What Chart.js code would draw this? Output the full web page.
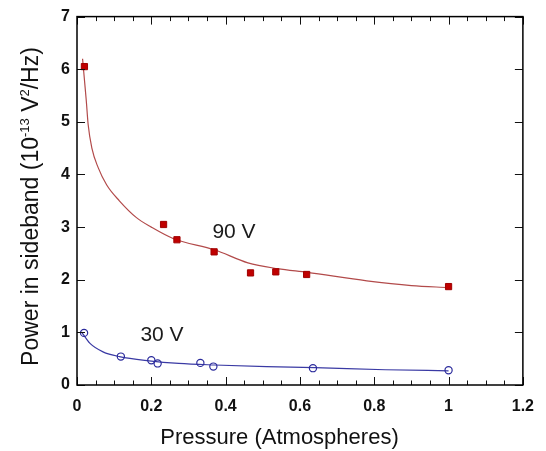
<!DOCTYPE html>
<html>
<head>
<meta charset="utf-8">
<script src="https://cdn.jsdelivr.net/npm/chart.js@4"></script>
<style>
html,body{margin:0;padding:0;background:#fff;}
#wrap{width:546px;height:451px;}
</style>
</head>
<body>
<div id="wrap"><canvas id="c" width="546" height="451"></canvas></div>
<script>
// ---- data ----
const pressure90 = [0.02, 0.233, 0.269, 0.369, 0.467, 0.535, 0.618, 1.0];
const power90    = [6.05, 3.05, 2.76, 2.53, 2.13, 2.15, 2.10, 1.87];
const pressure30 = [0.019, 0.118, 0.20, 0.217, 0.332, 0.367, 0.635, 1.0];
const power30    = [0.99, 0.54, 0.47, 0.41, 0.42, 0.35, 0.32, 0.28];
const fit90X = [0.015, 0.02, 0.025, 0.03, 0.04, 0.057, 0.08, 0.114, 0.16, 0.2, 0.26, 0.37, 0.46, 0.54, 0.62, 0.78, 0.9, 1.0];
const fit90Y = [6.2, 5.8, 5.4, 4.95, 4.5, 4.13, 3.8, 3.5, 3.18, 3.0, 2.78, 2.57, 2.32, 2.21, 2.14, 1.98, 1.89, 1.85];
const fit30X = [0.012, 0.035, 0.07, 0.114, 0.194, 0.274, 0.37, 0.51, 0.64, 0.83, 1.0];
const fit30Y = [1.01, 0.79, 0.63, 0.54, 0.46, 0.41, 0.38, 0.35, 0.33, 0.29, 0.27];
const xTickValues = [0, 0.2, 0.4, 0.6, 0.8, 1, 1.2];
const yTickValues = [0, 1, 2, 3, 4, 5, 6, 7];
const seriesLabels = ['90 V', '30 V'];
const xTitle = 'Pressure (Atmospheres)';
const yTitleParts = [['Power in sideband (10', false], ['-13', true], [' V', false], ['2', true], ['/Hz)', false]];

const pts = (xs, ys) => xs.map((x, i) => ({x: x, y: ys[i]}));

const FONT = '"Liberation Sans", Arial, sans-serif';

const framePlugin = {
  id: 'frame',
  afterDraw(chart) {
    const ctx = chart.ctx;
    const a = chart.chartArea;
    const xs = chart.scales.x, ys = chart.scales.y;
    ctx.save();
    // ticks
    ctx.strokeStyle = '#111';
    ctx.lineWidth = 1;
    ctx.beginPath();
    for (let i = 0; i <= 24; i++) {
      const v = i * 0.05;
      const px = Math.round(xs.getPixelForValue(v)) + 0.5;
      const major = (i % 4 === 0);
      const len = major ? 8 : 4.5;
      ctx.moveTo(px, a.bottom); ctx.lineTo(px, a.bottom - len);
      ctx.moveTo(px, a.top); ctx.lineTo(px, a.top + len);
    }
    yTickValues.forEach(v => {
      const py = Math.round(ys.getPixelForValue(v)) + 0.5;
      ctx.moveTo(a.left, py); ctx.lineTo(a.left + 8, py);
      ctx.moveTo(a.right, py); ctx.lineTo(a.right - 8, py);
    });
    ctx.stroke();
    // frame
    ctx.lineWidth = 1.5;
    ctx.strokeStyle = '#000';
    ctx.strokeRect(a.left, a.top, a.right - a.left, a.bottom - a.top);

    // x title
    ctx.fillStyle = '#111';
    ctx.font = '22px ' + FONT;
    ctx.textAlign = 'center';
    ctx.textBaseline = 'alphabetic';
    ctx.fillText(xTitle, 279.5, 444);

    // y title with superscripts, rotated
    const mainF = '23px ' + FONT, supF = '13px ' + FONT;
    let total = 0;
    const widths = yTitleParts.map(([t, sup]) => { ctx.font = sup ? supF : mainF; const w = ctx.measureText(t).width; total += w; return w; });
    ctx.translate(38, 206.5);
    ctx.rotate(-Math.PI / 2);
    ctx.textAlign = 'left';
    let cx = -total / 2;
    yTitleParts.forEach(([t, sup], i) => {
      ctx.font = sup ? supF : mainF;
      ctx.fillText(t, cx, sup ? -9 : 0);
      cx += widths[i];
    });
    ctx.setTransform(1, 0, 0, 1, 0, 0);

    // series labels
    ctx.font = '21px ' + FONT;
    ctx.textAlign = 'center';
    ctx.fillStyle = '#1a1a1a';
    ctx.fillText(seriesLabels[0], 234, 237.5);
    ctx.fillText(seriesLabels[1], 162, 340.5);
    ctx.restore();
  }
};

new Chart(document.getElementById('c'), {
  type: 'scatter',
  data: {
    datasets: [
      {
        label: seriesLabels[0],
        data: pts(pressure90, power90),
        pointStyle: 'rect',
        pointRadius: 4.4,
        pointBackgroundColor: '#c00000',
        pointBorderColor: '#a00000',
        pointBorderWidth: 1,
        showLine: false,
        order: 1
      },
      {
        label: seriesLabels[1],
        data: pts(pressure30, power30),
        pointStyle: 'circle',
        pointRadius: 3.6,
        pointBackgroundColor: 'rgba(0,0,0,0)',
        pointBorderColor: '#2b2b9c',
        pointBorderWidth: 1.2,
        showLine: false,
        order: 2
      },
      {
        label: seriesLabels[0] + ' fit',
        data: pts(fit90X, fit90Y),
        showLine: true,
        pointRadius: 0,
        borderColor: '#b24a4a',
        borderWidth: 1.2,
        cubicInterpolationMode: 'monotone',
        order: 3
      },
      {
        label: seriesLabels[1] + ' fit',
        data: pts(fit30X, fit30Y),
        showLine: true,
        pointRadius: 0,
        borderColor: '#3a3aa4',
        borderWidth: 1.2,
        cubicInterpolationMode: 'monotone',
        order: 4
      }
    ]
  },
  options: {
    responsive: false,
    animation: false,
    devicePixelRatio: 1,
    layout: { padding: { top: 15, right: 18, left: 0, bottom: 0 } },
    plugins: { legend: { display: false }, tooltip: { enabled: false } },
    scales: {
      x: {
        type: 'linear', min: 0, max: 1.2,
        afterBuildTicks: s => { s.ticks = xTickValues.map(v => ({value: v})); },
        afterFit: s => { s.height = 66; },
        grid: { display: false, drawTicks: false },
        border: { display: false },
        ticks: {
          padding: 12, color: '#111',
          font: { family: FONT, size: 16, weight: 'bold' },
          callback: v => String(Number(v.toFixed(1)))
        }
      },
      y: {
        type: 'linear', min: 0, max: 7,
        afterBuildTicks: s => { s.ticks = yTickValues.map(v => ({value: v})); },
        afterFit: s => { s.width = 77; },
        grid: { display: false, drawTicks: false },
        border: { display: false },
        ticks: {
          padding: 7, color: '#111',
          font: { family: FONT, size: 16, weight: 'bold' },
          callback: v => String(v)
        }
      }
    }
  },
  plugins: [framePlugin]
});
</script>
</body>
</html>
